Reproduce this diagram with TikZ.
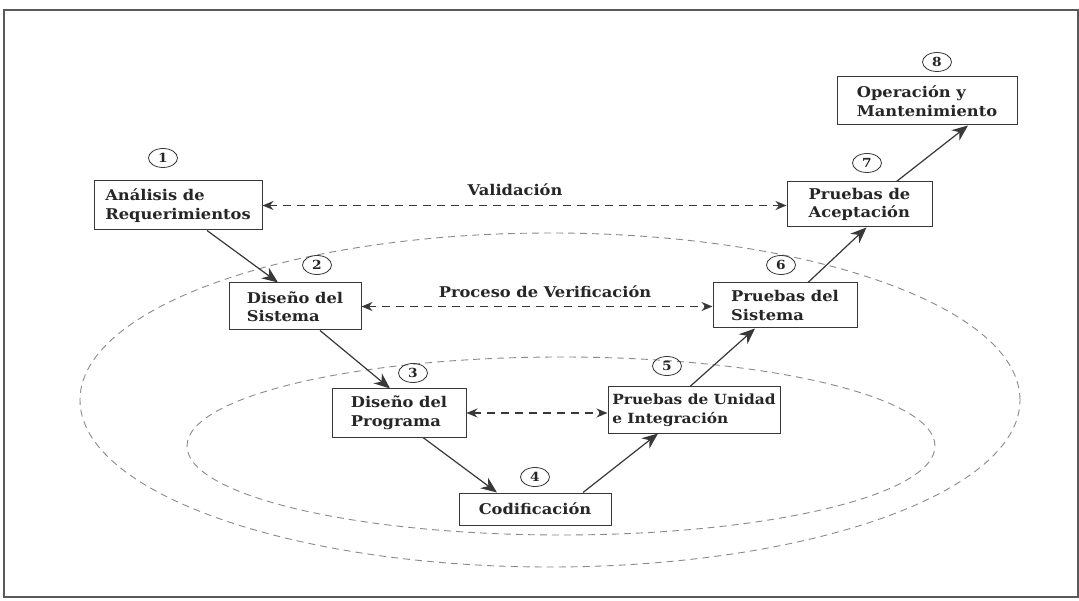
\documentclass[tikz,border=0pt]{standalone}
\usepackage{fontspec}
\setmainfont{DejaVu Serif}
\newfontfamily\boxfont[FakeStretch=1.1]{DejaVu Serif}
\usetikzlibrary{arrows.meta,shapes.geometric}
\definecolor{ink}{HTML}{262626}
\definecolor{linec}{HTML}{383838}
\definecolor{ellc}{HTML}{8A8A8A}
\tikzset{
  stepbox/.style={draw=linec, line width=1pt, inner xsep=6pt, font=\boxfont\fontsize{14.8}{18.5}\selectfont\bfseries, text=ink, align=left},
  numc/.style={draw=linec, ellipse, line width=0.8pt, minimum width=29pt, minimum height=19pt, inner sep=0pt, font=\boxfont\fontsize{12.5}{12.5}\selectfont\bfseries, text=ink},
  flow/.style={draw=linec, line width=1.2pt, -{Stealth[length=16pt,width=13pt]}},
  vv/.style={draw=linec, line width=1.2pt, dash pattern=on 8pt off 6pt, {Stealth[length=11pt,width=9pt]}-{Stealth[length=11pt,width=9pt]}},
  ell/.style={draw=ellc, line width=0.9pt, dash pattern=on 7pt off 5pt},
  lbl/.style={font=\boxfont\fontsize{14.8}{18.5}\selectfont\bfseries, text=ink}
}
\begin{document}
\begin{tikzpicture}[x=1pt,y=-1pt]
\useasboundingbox (0,0) rectangle (1079,601);
\fill[white] (0,0) rectangle (1079,601);
\draw[draw=black!65, line width=1.2pt] (4,10) rectangle (1078,597);
% ellipses
\draw[ell] (550,400) ellipse [x radius=470pt, y radius=167pt];
\draw[ell] (561,446) ellipse [x radius=374pt, y radius=89pt];
% boxes
\node[stepbox, minimum width=168pt, minimum height=49pt] (n1) at (178,205.5) {Análisis de\\Requerimientos};
\node[stepbox, minimum width=132pt, minimum height=47pt] (n2) at (295,306.5) {Diseño del\\Sistema};
\node[stepbox, minimum width=134pt, minimum height=48pt] (n3) at (399,413) {Diseño del\\Programa};
\node[stepbox, minimum width=152pt, minimum height=32pt] (n4) at (535,509) {Codificación};
\node[stepbox, minimum width=172pt, minimum height=46pt, inner xsep=3pt, font=\boxfont\fontsize{14}{18.5}\selectfont\bfseries] (n5) at (694,410) {Pruebas de Unidad\\e Integración};
\node[stepbox, minimum width=144pt, minimum height=45pt] (n6) at (785,305.5) {Pruebas del\\Sistema};
\node[stepbox, minimum width=145pt, minimum height=45pt] (n7) at (859.5,204.5) {Pruebas de\\Aceptación};
\node[stepbox, minimum width=180pt, minimum height=48pt] (n8) at (927,101) {Operación y\\Mantenimiento};
% numbers
\node[numc] (c1) at (163,158) {1};
\node[numc] (c2) at (317,265) {2};
\node[numc] (c3) at (413,373) {3};
\node[numc] (c4) at (535,477) {4};
\node[numc] (c5) at (667,366) {5};
\node[numc] (c6) at (781,265) {6};
\node[numc] (c7) at (867,163) {7};
\node[numc] (c8) at (937,62) {8};
% flow arrows
\draw[flow] ([xshift=29pt]n1.south) -- ([xshift=-17pt]n2.north);
\draw[flow] ([xshift=25pt]n2.south) -- ([xshift=-9pt]n3.north);
\draw[flow] ([xshift=24pt]n3.south) -- ([xshift=-38pt]n4.north);
\draw[flow] ([xshift=48pt]n4.north) -- ([xshift=-36pt]n5.south);
\draw[flow] ([xshift=-4pt]n5.north) -- ([xshift=-30pt]n6.south);
\draw[flow] ([xshift=23pt]n6.north) -- ([xshift=7pt]n7.south);
\draw[flow] ([xshift=37pt]n7.north) -- ([xshift=41pt]n8.south);
% validation / verification
\draw[vv] (n1.east) -- (n1.east -| n7.west);
\draw[vv] (n2.east) -- (n2.east -| n6.west);
\draw[vv] (n3.east) -- (n3.east -| n5.west);
\node[lbl] (tv) at (515,190) {Validación};
\node[lbl] (tp) at (545,292) {Proceso de Verificación};
\end{tikzpicture}
\end{document}
